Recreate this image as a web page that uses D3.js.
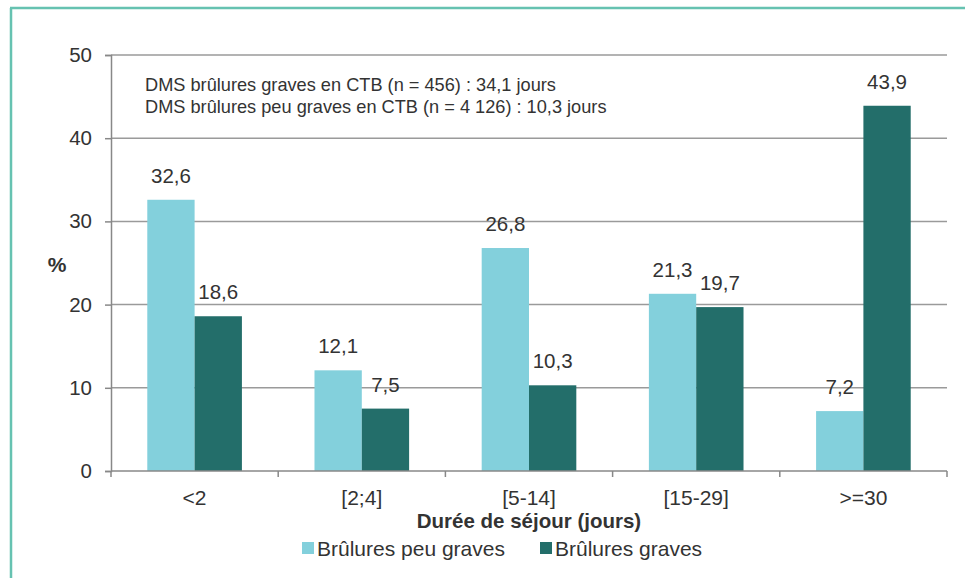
<!DOCTYPE html>
<html><head><meta charset="utf-8">
<script src="https://cdn.jsdelivr.net/npm/d3@7"></script>
<style>html,body{margin:0;padding:0;background:#fff;}svg{display:block;font-family:"Liberation Sans",Arial,sans-serif;}</style>
</head><body>
<svg id="c" width="965" height="578"></svg>
<script>
const categories = ["<2", "[2;4]", "[5-14]", "[15-29]", ">=30"];
const seriesNames = ["Brûlures peu graves", "Brûlures graves"];
const peuGraves = [32.6, 12.1, 26.8, 21.3, 7.2];
const graves = [18.6, 7.5, 10.3, 19.7, 43.9];
const yTicks = [0, 10, 20, 30, 40, 50];
const annotations = ["DMS brûlures graves en CTB (n = 456) : 34,1 jours", "DMS brûlures peu graves en CTB (n = 4 126) : 10,3 jours"];
const colors = ["#83d0dc", "#236e6a"];

const svg = d3.select("#c");
// frame
svg.append("line").attr("x1", 11).attr("x2", 11).attr("y1", 8).attr("y2", 578).attr("stroke", "#66c2b1").attr("stroke-width", 2.5);
svg.append("line").attr("x1", 10).attr("x2", 965).attr("y1", 8).attr("y2", 8).attr("stroke", "#66c2b1").attr("stroke-width", 2.5);

const L = 111, R = 947, T = 55, B = 471;
const y = d3.scaleLinear().domain([0, 50]).range([B, T]);
const x0 = d3.scaleBand().domain(categories).range([L, R]).padding(0);
const x1 = d3.scaleBand().domain(seriesNames).range([0, x0.bandwidth()]).paddingInner(0).paddingOuter(0.767);

// gridlines
svg.append("g").selectAll("line").data(yTicks.filter(d => d > 0)).join("line")
  .attr("x1", L).attr("x2", R).attr("y1", d => y(d)).attr("y2", d => y(d))
  .attr("stroke", "#9a9a9a").attr("stroke-width", 1.5);

// y axis
const yAxis = svg.append("g").attr("transform", `translate(${L},0)`)
  .call(d3.axisLeft(y).tickValues(yTicks).tickSize(6).tickPadding(13).tickFormat(d3.format("d")));
yAxis.select(".domain").attr("stroke", "#888").attr("stroke-width", 1.5);
yAxis.selectAll(".tick line").attr("stroke", "#888").attr("stroke-width", 1.5);
yAxis.selectAll(".tick text").attr("font-size", "20.5px").attr("fill", "#333").attr("font-family", "Liberation Sans, Arial, sans-serif");

// bars
const data = categories.map((c, i) => ({c, vals: [peuGraves[i], graves[i]]}));
const groups = svg.append("g").selectAll("g").data(data).join("g")
  .attr("transform", d => `translate(${x0(d.c)},0)`);
groups.selectAll("rect").data(d => d.vals.map((v, j) => ({v, s: seriesNames[j], j}))).join("rect")
  .attr("x", d => x1(d.s)).attr("width", x1.bandwidth())
  .attr("y", d => y(d.v)).attr("height", d => B - y(d.v))
  .attr("fill", d => colors[d.j]);
groups.selectAll("text").data(d => d.vals.map((v, j) => ({v, s: seriesNames[j]}))).join("text")
  .attr("x", d => x1(d.s) + x1.bandwidth() / 2).attr("y", d => y(d.v) - 17)
  .attr("text-anchor", "middle").attr("font-size", "20.5px").attr("fill", "#333")
  .text(d => d3.format(".1f")(d.v).replace(".", ","));

// x axis
svg.append("line").attr("x1", L).attr("x2", R).attr("y1", B).attr("y2", B).attr("stroke", "#888").attr("stroke-width", 1.5);
const tickPos = categories.map(c => x0(c)).concat([x0(categories[categories.length - 1]) + x0.bandwidth()]);
svg.append("g").selectAll("line").data(tickPos).join("line")
  .attr("x1", d => d).attr("x2", d => d).attr("y1", B).attr("y2", B + 6)
  .attr("stroke", "#888").attr("stroke-width", 1.5);
svg.append("g").selectAll("text").data(categories).join("text")
  .attr("x", d => x0(d) + x0.bandwidth() / 2).attr("y", 505)
  .attr("text-anchor", "middle").attr("font-size", "21px").attr("fill", "#333").text(d => d);

svg.append("text").attr("x", (L + R) / 2).attr("y", 528).attr("text-anchor", "middle")
  .attr("font-size", "20.5px").attr("font-weight", "bold").attr("fill", "#333").text("Durée de séjour (jours)");

svg.append("text").attr("x", 57).attr("y", 272).attr("text-anchor", "middle")
  .attr("font-size", "21px").attr("font-weight", "bold").attr("fill", "#333").text("%");

// annotations
svg.append("g").selectAll("text").data(annotations).join("text")
  .attr("x", 145).attr("y", (d, i) => 91 + i * 22)
  .attr("font-size", "18.2px").attr("fill", "#333").text(d => d);

// legend
const legX = [302, 540];
const leg = svg.append("g").selectAll("g").data(seriesNames).join("g")
  .attr("transform", (d, i) => `translate(${legX[i]},0)`);
leg.append("rect").attr("x", 0).attr("y", 542).attr("width", 12).attr("height", 12).attr("fill", (d, i) => colors[i]);
leg.append("text").attr("x", 15).attr("y", 556).attr("font-size", "21px").attr("fill", "#333").text(d => d);
</script>
</body></html>
